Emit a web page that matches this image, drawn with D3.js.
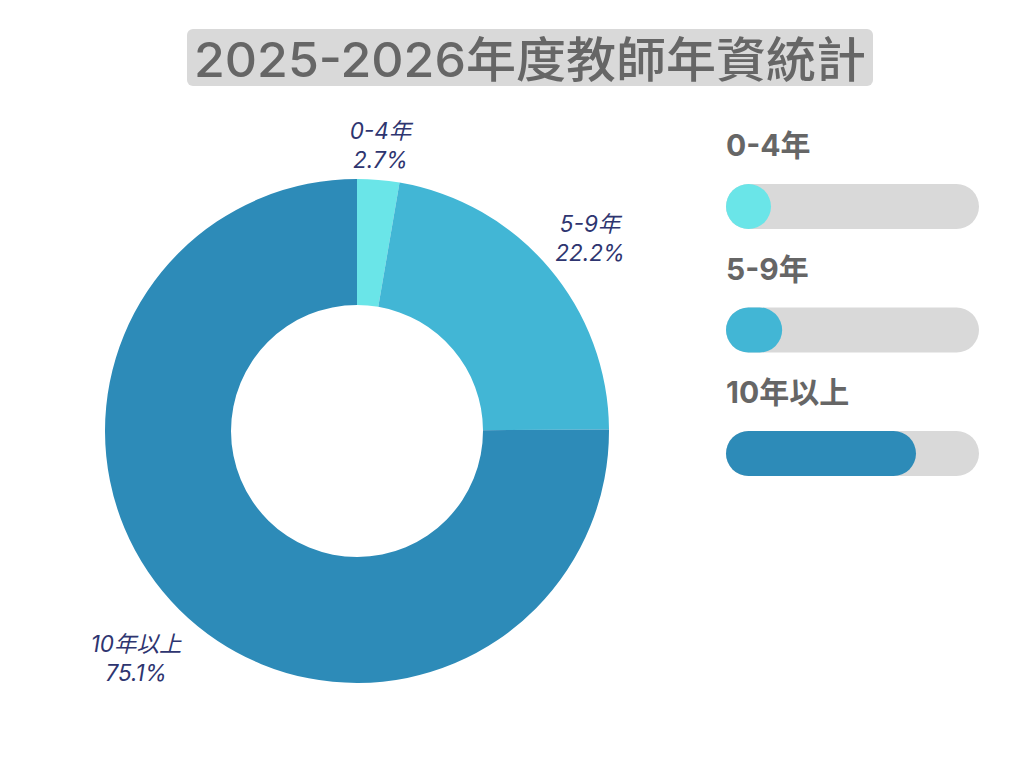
<!DOCTYPE html>
<html><head><meta charset="utf-8">
<script src="https://cdn.jsdelivr.net/npm/d3@7"></script>
<style>body{margin:0;background:#fff;}svg{display:block;}</style>
</head><body>
<svg id="chart" width="1024" height="768"></svg>
<script>
const title = "2025-2026年度教師年資統計";
const categories = ["0-4年", "5-9年", "10年以上"];
const values = [2.7, 22.2, 75.1];
const colors = ["#6ae5e8", "#42b6d5", "#2d8bb8"];

const svg = d3.select("#chart");
const fontFam = "Inter,'Noto Sans CJK TC',sans-serif";

// Title
const tg = svg.append("g");
tg.append("rect").attr("x",187).attr("y",29).attr("width",686).attr("height",57).attr("rx",6).attr("fill","#d9d9d9");
const tt = tg.append("text").attr("x",530).attr("y",77).attr("text-anchor","middle")
  .attr("font-family",fontFam).attr("font-size",48).attr("font-weight",500)
  .attr("fill","#666666").text(title);
tt.attr("textLength", 672).attr("lengthAdjust","spacingAndGlyphs");

// Donut
const cx = 357, cy = 431, R = 252, r = 126;
const pie = d3.pie().sort(null).value(d => d);
const arcs = pie(values);
const arc = d3.arc().innerRadius(r).outerRadius(R);
const g = svg.append("g").attr("transform", `translate(${cx},${cy})`);
g.selectAll("path").data(arcs).join("path")
  .attr("d", arc).attr("fill", (d,i) => colors[i]);

const labFont = "Inter,'Noto Sans CJK TC',sans-serif";
const lab = g.selectAll("g.lab").data(arcs).join("g").attr("class","lab");
lab.append("text").attr("text-anchor","middle").attr("y",-5)
  .attr("font-family",labFont).attr("font-style","italic")
  .attr("font-size",22.5).attr("fill","#2e3570")
  .text((d,i) => categories[i]);
lab.append("text").attr("text-anchor","middle").attr("y",24)
  .attr("font-family",labFont).attr("font-style","italic")
  .attr("font-size",22.5).attr("fill","#2e3570")
  .text((d,i) => values[i].toFixed(1) + "%");
// place label blocks just outside the ring
lab.attr("transform", function(d) {
  const bb = this.getBBox();
  const a = (d.startAngle + d.endAngle) / 2;
  const s = Math.sin(a), c = -Math.cos(a);
  const hw = bb.width / 2, hh = bb.height / 2;
  const ext = hw * Math.abs(s) + hh * Math.abs(c);
  const rr = R + 9 + ext;
  const ox = bb.x + hw, oy = bb.y + hh;
  return `translate(${rr*s - ox},${rr*c - oy + 5})`;
});

// Progress bars legend
const x = d3.scaleLinear().domain([0,100]).range([0,253]);
const bx = 726, bh = 45;
const lg = svg.append("g");
const rows = lg.selectAll("g").data(categories).join("g")
  .attr("transform", (d,i) => `translate(${bx},${120 + i*123.5})`);
rows.append("text").attr("x",0).attr("y",36)
  .attr("font-family",fontFam).attr("font-weight",700).attr("font-size",30)
  .attr("fill","#666666").text(d => d);
rows.append("rect").attr("x",0).attr("y",64).attr("width",x(100)).attr("height",bh)
  .attr("rx",bh/2).attr("fill","#d9d9d9");
rows.append("rect").attr("x",0).attr("y",64)
  .attr("width",(d,i) => Math.max(bh, x(values[i]))).attr("height",bh)
  .attr("rx",bh/2).attr("fill",(d,i) => colors[i]);
</script>
</body></html>
